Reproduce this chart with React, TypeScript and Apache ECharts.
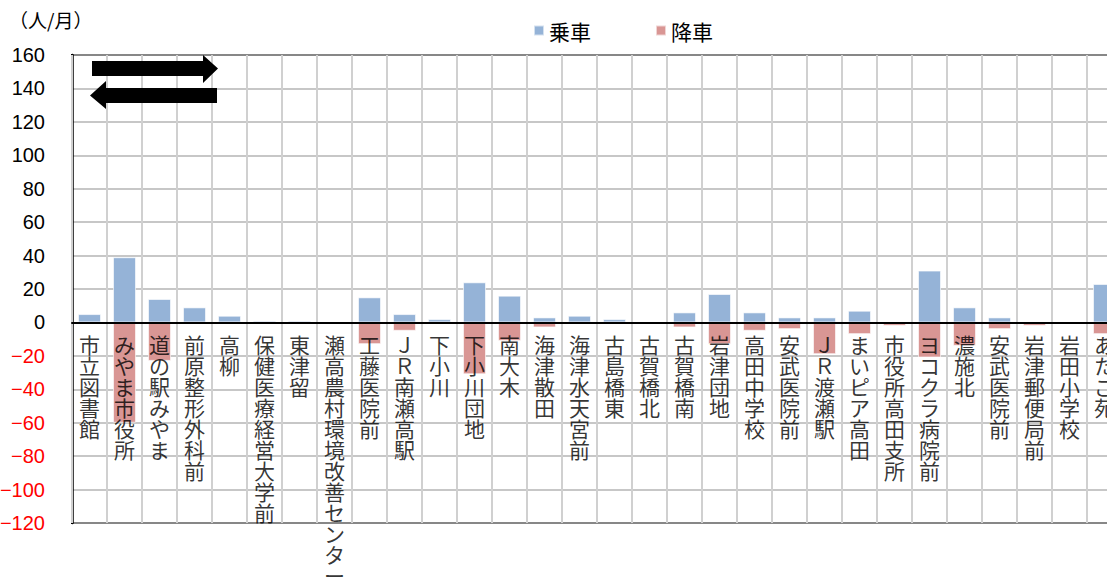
import React, { useEffect, useRef } from "react";
import * as echarts from "echarts";

const categories: string[] = [
  "市立図書館", "みやま市役所", "道の駅みやま", "前原整形外科前", "高柳",
  "保健医療経営大学前", "東津留", "瀬高農村環境改善センター", "工藤医院前", "ＪＲ南瀬高駅",
  "下小川", "下小川団地", "南大木", "海津散田", "海津水天宮前",
  "古島橋東", "古賀橋北", "古賀橋南", "岩津団地", "高田中学校",
  "安武医院前", "ＪＲ渡瀬駅", "まいピア高田", "市役所高田支所", "ヨコクラ病院前",
  "濃施北", "安武医院前", "岩津郵便局前", "岩田小学校", "あたご苑",
];

const boarding: number[] = [
  5, 39, 14, 9, 4, 1, 1, 0, 15, 5,
  2, 24, 16, 3, 4, 2, 0, 6, 17, 6,
  3, 3, 7, 0, 31, 9, 3, 0, 0, 23,
];

const alighting: number[] = [
  0, -60, -23, 0, 0, 0, 0, 0, -13, -5,
  0, -31, -11, -3, 0, 0, 0, -3, -13, -5,
  -4, -19, -7, -2, -21, -14, -4, -2, 0, -7,
];

const seriesNames: string[] = ["乗車", "降車"];
const yMin = -120;
const yMax = 160;
const yStep = 20;
const unitLabel = "（人/月）";

export default function App() {
  const ref = useRef<HTMLDivElement>(null);

  useEffect(() => {
    if (!ref.current) return;
    const chart = echarts.init(ref.current, null, { renderer: "svg" });
    const cjk = "'Noto Sans CJK JP', sans-serif";
    const num = "'Liberation Sans', Arial, sans-serif";

    chart.setOption({
      animation: false,
      backgroundColor: "#fff",
      legend: {
        data: seriesNames,
        left: 533,
        top: 20,
        padding: 0,
        itemWidth: 10,
        itemHeight: 10,
        itemGap: 64,
        icon: "rect",
        textStyle: { fontFamily: cjk, fontSize: 21, color: "#000" },
      },
      grid: {
        left: 72,
        top: 55,
        height: 468,
        right: 78,
        show: true,
        borderColor: "#000",
        borderWidth: 2,
        outerBoundsMode: "none",
      },
      xAxis: {
        type: "category",
        data: categories,
        z: 5,
        axisLine: { show: true, onZero: true, lineStyle: { color: "#000", width: 2 } },
        axisTick: { show: false },
        splitLine: { show: true, interval: 0, lineStyle: { color: "#d0d0d0", width: 2 } },
        axisLabel: { show: false },
      },
      yAxis: {
        type: "value",
        min: yMin,
        max: yMax,
        interval: yStep,
        axisLine: { show: true, lineStyle: { color: "#000", width: 2.5 } },
        axisTick: { show: false },
        splitLine: { show: true, lineStyle: { color: "#b4b4b4", width: 1.5 } },
        axisLabel: {
          margin: 27,
          fontFamily: num,
          fontSize: 20,
          formatter: (v: number) => (v < 0 ? `{neg|−${Math.abs(v)}}` : `{pos|${v}}`),
          rich: {
            neg: { color: "#ff0000", fontFamily: num, fontSize: 20 },
            pos: { color: "#000", fontFamily: num, fontSize: 20 },
          },
        },
      },
      series: [
        {
          name: seriesNames[0],
          type: "bar",
          data: boarding,
          barWidth: 23,
          barGap: "-100%",
          itemStyle: { color: "#95b3d7", borderColor: "rgba(255,255,255,0.6)", borderWidth: 1 },
        },
        {
          name: seriesNames[1],
          type: "bar",
          data: alighting,
          barWidth: 23,
          barGap: "-100%",
          itemStyle: { color: "#d99694", borderColor: "rgba(255,255,255,0.6)", borderWidth: 1 },
        },
        {
          name: "labels",
          type: "scatter",
          data: categories.map(() => 0),
          symbolSize: 0,
          z: 6,
          silent: true,
          label: {
            show: true,
            position: "bottom",
            distance: 11,
            verticalAlign: "top",
            align: "center",
            fontFamily: cjk,
            fontSize: 21,
            lineHeight: 21,
            color: "#000",
            formatter: (p: any) => Array.from(categories[p.dataIndex]).join("\n"),
          },
        },
      ],
      graphic: [
        {
          type: "text",
          left: 9,
          top: 10,
          style: { text: unitLabel, fontFamily: cjk, fontSize: 19, fill: "#000" },
        },
        {
          type: "polygon",
          shape: {
            points: [[92, 61], [203, 61], [203, 55], [218, 68.5], [203, 83], [203, 76], [92, 76]],
          },
          style: { fill: "#000" },
          z: 100,
        },
        {
          type: "polygon",
          shape: {
            points: [[217, 88], [106, 88], [106, 81], [90, 95.5], [106, 109], [106, 103], [217, 103]],
          },
          style: { fill: "#000" },
          z: 100,
        },
      ],
    });

    return () => chart.dispose();
  }, []);

  return (
    <div
      style={{
        position: "fixed",
        left: 0,
        top: 0,
        width: 1107,
        height: 581,
        overflow: "hidden",
        background: "#fff",
      }}
    >
      <div ref={ref} style={{ width: 1200, height: 581 }} />
    </div>
  );
}
